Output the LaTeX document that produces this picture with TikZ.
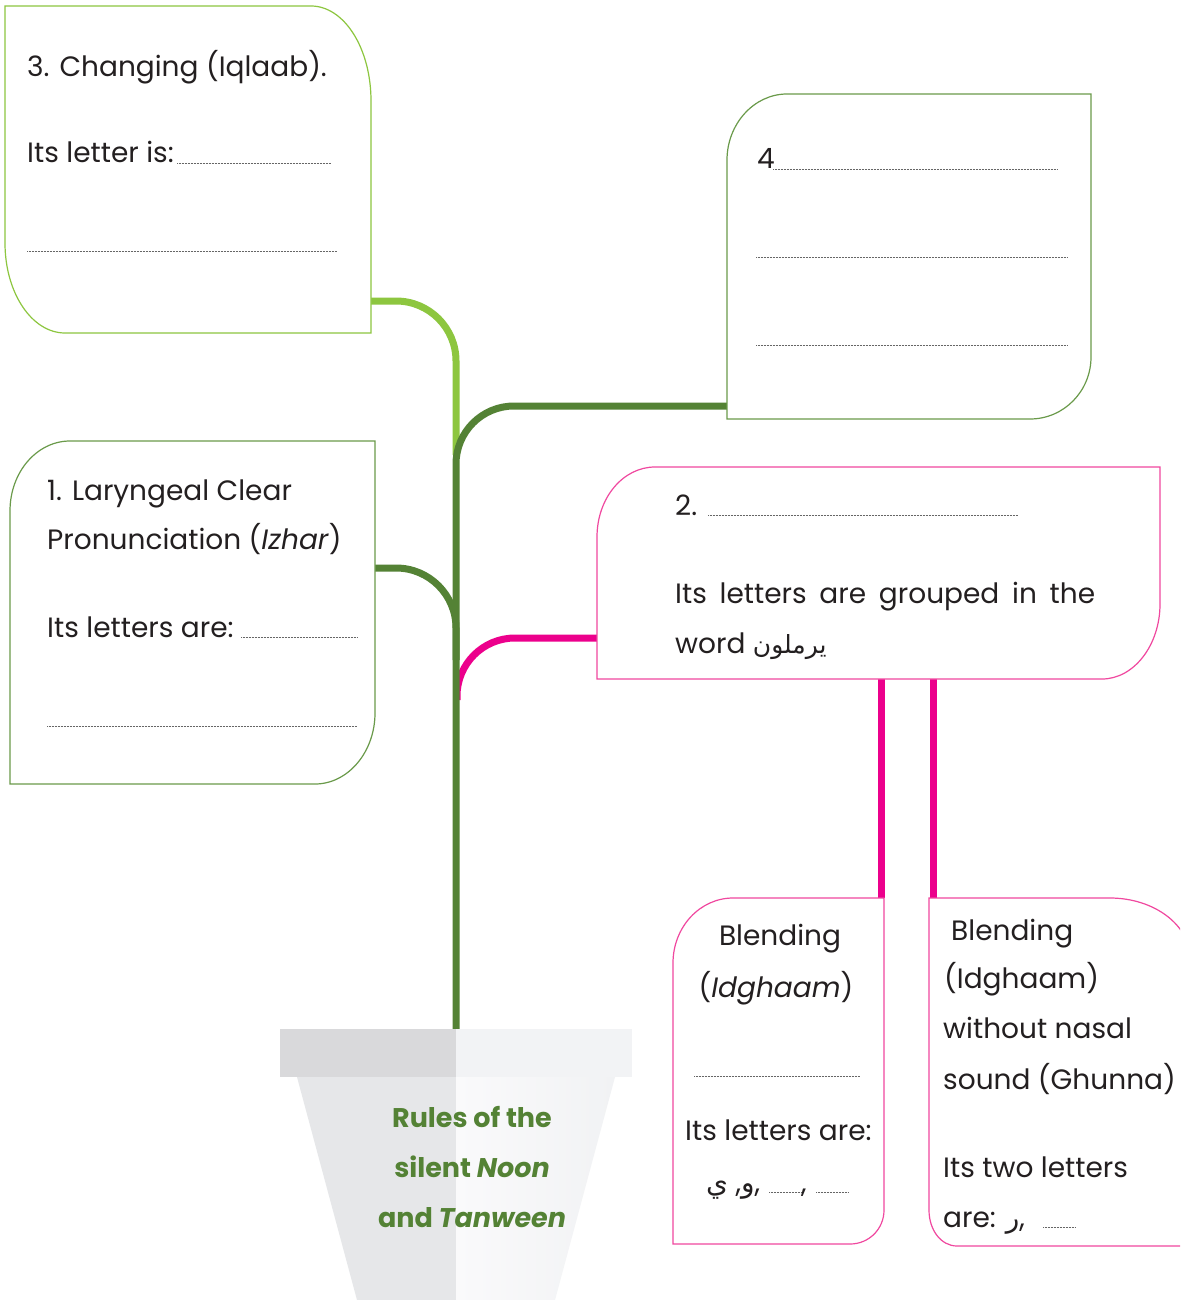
\documentclass[tikz,border=0pt]{standalone}
\usepackage{fontspec}
\setmainfont{Poppins}
\newfontfamily\arabicfont[Script=Arabic]{DejaVu Sans}
\TeXXeTstate=1
\definecolor{lgreen}{HTML}{8DC63F}
\definecolor{dgreen}{HTML}{548235}
\definecolor{boxgreen}{HTML}{6A9A4A}
\definecolor{mag}{HTML}{EC008C}
\definecolor{magline}{HTML}{F0489F}
\definecolor{txt}{HTML}{231F20}
\definecolor{rimL}{HTML}{D9D9DB}
\definecolor{rimR}{HTML}{F2F3F5}
\definecolor{potL}{HTML}{E6E7E9}
\definecolor{potRa}{HTML}{FAFAFB}
\definecolor{potRb}{HTML}{F1F2F4}
\newcommand{\ar}[1]{{\arabicfont\beginR #1\endR}}
\begin{document}
\begin{tikzpicture}[x=1pt,y=-1pt,
  branch/.style={line width=7pt},
  boxline/.style={line width=1.2pt, fill=white},
  dots/.style={draw=black!60, line width=0.7pt, dash pattern=on 0.8pt off 0.7pt},
  lbl/.style={anchor=base west, inner sep=0pt, text=txt, font=\fontsize{28}{33}\selectfont},
  clbl/.style={anchor=base, inner sep=0pt, text=txt, font=\fontsize{28}{33}\selectfont},
  pottext/.style={anchor=base, inner sep=0pt, text=dgreen, font=\bfseries\fontsize{27}{32}\selectfont}]
\clip (0,0) rectangle (1180,1300);
\fill[white] (0,0) rectangle (1180,1300);

% connection points
\coordinate (b3r) at (371,301);
\coordinate (b1r) at (375,568);
\coordinate (b4l) at (727,406);
\coordinate (b2l) at (597,638);
\coordinate (stemfoot) at (456,1029);
\coordinate (b2ba) at (881,679);
\coordinate (b2bb) at (933,679);
\coordinate (b5t) at (881,898);
\coordinate (b6t) at (933,898);

% branches
\draw[branch, lgreen, rounded corners=60pt] (b3r) -- (456,301) -- (456,455);
\draw[branch, mag, rounded corners=58pt] (b2l) -- (457,638) -- (457,700);
\draw[branch, dgreen, rounded corners=60pt] (b1r) -- (456,568) -- (456,660);
\draw[branch, dgreen, rounded corners=58pt] (stemfoot) -- (456,406) -- (b4l);
\draw[branch, mag] (b2ba) -- (b5t);
\draw[branch, mag] (b2bb) -- (b6t);

% box 3 (Iqlaab)
\draw[boxline, draw=lgreen] (5,6) -- (311,6) .. controls (344,6) and (371,48) .. (371,101)
  -- (371,333) -- (65,333) .. controls (32,333) and (5,293) .. (5,243) -- cycle;
% box 4
\draw[boxline, draw=boxgreen] (727,419) -- (727,160) .. controls (727,124) and (754,94) .. (787,94)
  -- (1091,94) -- (1091,357) .. controls (1091,391) and (1064,419) .. (1030,419) -- cycle;
% box 1 (Izhar)
\draw[boxline, draw=boxgreen] (10,784) -- (10,511) .. controls (10,472) and (37,441) .. (70,441)
  -- (375,441) -- (375,713) .. controls (375,752) and (348,784) .. (315,784) -- cycle;
% box 2
\draw[boxline, draw=magline] (597,679) -- (597,537) .. controls (597,498) and (623,467) .. (655,467)
  -- (1160,467) -- (1160,604) .. controls (1160,645) and (1134,679) .. (1102,679) -- cycle;
% box 5
\draw[boxline, draw=magline] (673,1244) -- (673,963) .. controls (673,927) and (700,898) .. (733,898)
  -- (884,898) -- (884,1210) .. controls (884,1229) and (869,1244) .. (850,1244) -- cycle;
% box 6
\draw[boxline, draw=magline] (929,898) -- (1110,898) .. controls (1154,898) and (1190,925) .. (1190,958)
  -- (1190,1246) -- (957,1246) .. controls (941,1246) and (929,1230) .. (929,1210) -- cycle;

% pot
\fill[rimL] (280,1029) rectangle (456,1077);
\fill[rimR] (456,1029) rectangle (632,1077);
\fill[potL] (297,1077) -- (456,1077) -- (456,1300) -- (357,1300) -- cycle;
\shade[left color=potRa, right color=potRb] (456,1077) -- (615,1077) -- (555,1300) -- (456,1300) -- cycle;
\node[pottext] (p1) at (472,1127) {Rules of the};
\node[pottext] (p2) at (472,1177) {silent \textit{Noon}};
\node[pottext] (p3) at (472,1227) {and \textit{Tanween}};

% box 3 texts
\node[lbl] (t3a) at (27,77) {3. Changing (Iqlaab).};
\node[lbl] (t3b) at (27,163) {Its letter is:};
\draw[dots] (177,163) -- (331,163);
\draw[dots] (27,251) -- (337,251);

% box 4 texts
\node[lbl] (t4a) at (757,168) {4};
\draw[dots] (773,169) -- (1057,169);
\draw[dots] (756,257) -- (1067,257);
\draw[dots] (756,345) -- (1067,345);

% box 1 texts
\node[lbl] (t1a) at (47,500) {1. Laryngeal Clear};
\node[lbl] (t1b) at (47,549) {Pronunciation (\textit{Izhar})};
\node[lbl] (t1c) at (47,637) {Its letters are:};
\draw[dots] (241,637) -- (357,637);
\draw[dots] (47,726) -- (357,726);

% box 2 texts
\node[lbl] (t2a) at (675,515) {2.};
\draw[dots] (708,515) -- (1018,515);
\node[lbl] (t2b) at (675,603) {\makebox[420pt][s]{Its letters are grouped in the}};
\node[lbl] (t2c) at (675,653) {word {\fontsize{25}{30}\selectfont\ar{يرملون}}};

% box 5 texts
\node[clbl] (t5a) at (780,945) {Blending};
\node[clbl] (t5b) at (776,997) {(\textit{Idghaam})};
\draw[dots] (694,1076) -- (860,1076);
\node[lbl] (t5c) at (685,1140) {Its letters are:};
\node[lbl] (t5d) at (706,1192) {\ar{ي} ,\ar{و},};
\draw[dots] (769,1192) -- (801,1192);
\node[lbl] (t5e) at (801,1192) {,};
\draw[dots] (816,1192) -- (848,1192);

% box 6 texts
\node[lbl] (t6a) at (951,940) {Blending};
\node[lbl] (t6b) at (944,988) {(Idghaam)};
\node[lbl] (t6c) at (943,1038) {without nasal};
\node[lbl] (t6d) at (943,1089) {sound (Ghunna)};
\node[lbl] (t6e) at (943,1177) {Its two letters};
\node[lbl] (t6f) at (943,1227) {are: \ar{ر},};
\draw[dots] (1043,1227) -- (1075,1227);
\end{tikzpicture}
\end{document}
